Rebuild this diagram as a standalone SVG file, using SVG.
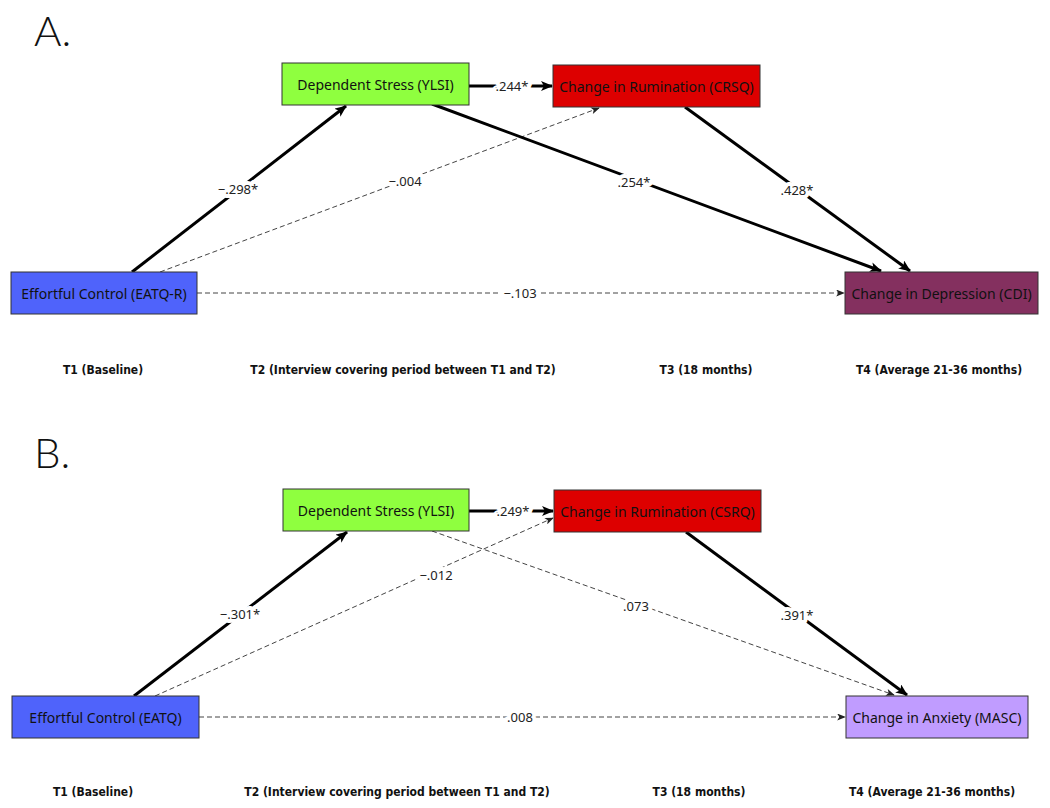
<svg xmlns="http://www.w3.org/2000/svg" width="1050" height="808" viewBox="0 0 1050 808">
<defs>
<marker id="ah" viewBox="0 0 12 10" refX="11" refY="5" markerWidth="12" markerHeight="10" markerUnits="userSpaceOnUse" orient="auto">
<path d="M0,0 L12,5 L0,10 L3,5 Z" fill="#000"/>
</marker>
<marker id="ahs" viewBox="0 0 10 8" refX="9" refY="4" markerWidth="9" markerHeight="7" markerUnits="userSpaceOnUse" orient="auto">
<path d="M0,0 L10,4 L0,8 L2.5,4 Z" fill="#222"/>
</marker>
<style>
.node rect{stroke:#333;stroke-width:1}
.node text{font-family:"Noto Sans","DejaVu Sans",sans-serif;font-size:14px;fill:#111;text-anchor:middle;dominant-baseline:central}
.thick{stroke:#000;stroke-width:3;fill:none;marker-end:url(#ah)}
.dash{stroke:#444;stroke-width:1;stroke-dasharray:5,3;fill:none;marker-end:url(#ahs)}
.lbl{font-family:"Noto Sans","DejaVu Sans",sans-serif;font-size:13px;fill:#222;text-anchor:middle;dominant-baseline:central;paint-order:stroke;stroke:#fff;stroke-width:8px;stroke-linejoin:round}
.time{font-family:"DejaVu Sans Condensed","Noto Sans","DejaVu Sans",sans-serif;font-weight:bold;font-size:12px;fill:#111;text-anchor:middle}
.panel{font-family:Lato,"Open Sans",sans-serif;font-weight:300;font-size:42px;fill:#111}
</style>
</defs>
<rect width="1050" height="808" fill="#fff"/>

<text class="panel" x="34" y="46">A.</text>
<text class="panel" x="34" y="468">B.</text>

<g id="connectors">
<!-- Panel A -->
<line class="thick" x1="469" y1="86" x2="552" y2="86"/>
<line class="thick" x1="132" y1="272" x2="346" y2="106"/>
<line class="dash" x1="160" y1="272" x2="599" y2="108"/>
<line class="thick" x1="432" y1="104" x2="881" y2="271"/>
<line class="thick" x1="685" y1="107" x2="910" y2="271"/>
<line class="dash" x1="197" y1="293" x2="844" y2="293"/>
<!-- Panel B -->
<line class="thick" x1="469" y1="511" x2="553" y2="511"/>
<line class="thick" x1="134" y1="696" x2="347" y2="532"/>
<line class="dash" x1="155" y1="696" x2="553" y2="518"/>
<line class="dash" x1="432" y1="531" x2="894" y2="695"/>
<line class="thick" x1="686" y1="532" x2="907" y2="695"/>
<line class="dash" x1="199" y1="717" x2="845" y2="717"/>
<!-- labels -->
<text class="lbl" x="512" y="86">.244*</text>
<text class="lbl" x="238" y="189">−.298*</text>
<text class="lbl" x="405" y="181">−.004</text>
<text class="lbl" x="634" y="182">.254*</text>
<text class="lbl" x="797" y="190">.428*</text>
<text class="lbl" x="520" y="293">−.103</text>
<text class="lbl" x="513" y="511">.249*</text>
<text class="lbl" x="240" y="614">−.301*</text>
<text class="lbl" x="436" y="575">−.012</text>
<text class="lbl" x="636" y="606">.073</text>
<text class="lbl" x="797" y="615">.391*</text>
<text class="lbl" x="520" y="717">.008</text>
</g>

<g id="stressA" class="node"><rect x="282" y="63" width="187" height="42" fill="#8fff3f"/><text x="375.5" y="84">Dependent Stress (YLSI)</text></g>
<g id="rumA" class="node"><rect x="553" y="65" width="207" height="42" fill="#dd0000"/><text x="656.5" y="86">Change in Rumination (CRSQ)</text></g>
<g id="ecA" class="node"><rect x="11" y="272" width="186" height="42" fill="#4f63fb"/><text x="104" y="293">Effortful Control (EATQ-R)</text></g>
<g id="depA" class="node"><rect x="845" y="272" width="193" height="42" fill="#84305f"/><text x="941.5" y="293">Change in Depression (CDI)</text></g>

<g id="stressB" class="node"><rect x="283" y="489" width="186" height="42" fill="#8fff3f"/><text x="376" y="510">Dependent Stress (YLSI)</text></g>
<g id="rumB" class="node"><rect x="554" y="490" width="207" height="42" fill="#dd0000"/><text x="657.5" y="511">Change in Rumination (CSRQ)</text></g>
<g id="ecB" class="node"><rect x="12" y="696" width="187" height="42" fill="#4f63fb"/><text x="105.5" y="717">Effortful Control (EATQ)</text></g>
<g id="anxB" class="node"><rect x="846" y="696" width="182" height="42" fill="#c09cff"/><text x="937" y="717">Change in Anxiety (MASC)</text></g>

<g id="timesA">
<text class="time" x="103" y="374">T1 (Baseline)</text>
<text class="time" x="403" y="374">T2 (Interview covering period between T1 and T2)</text>
<text class="time" x="706" y="374">T3 (18 months)</text>
<text class="time" x="939" y="374">T4 (Average 21-36 months)</text>
</g>
<g id="timesB">
<text class="time" x="93" y="796">T1 (Baseline)</text>
<text class="time" x="397" y="796">T2 (Interview covering period between T1 and T2)</text>
<text class="time" x="699" y="796">T3 (18 months)</text>
<text class="time" x="932" y="796">T4 (Average 21-36 months)</text>
</g>
</svg>
